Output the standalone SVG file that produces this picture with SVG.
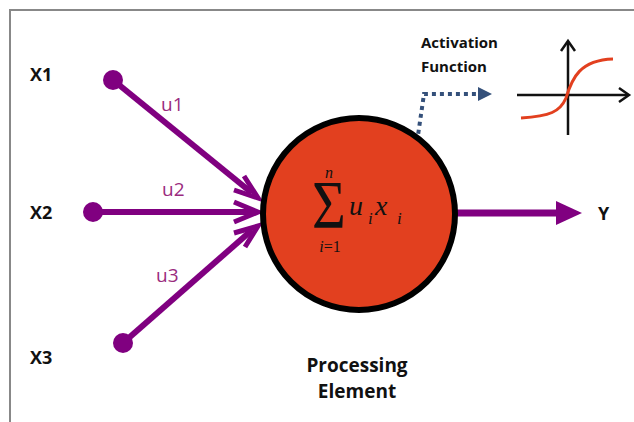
<svg xmlns="http://www.w3.org/2000/svg" width="634" height="422" viewBox="0 0 634 422">
<style>
.lbl{font-family:"Open Sans","Liberation Sans",sans-serif;font-weight:bold;fill:#111}
.w{font-family:"Open Sans","Liberation Sans",sans-serif;fill:#9a2b7e;font-size:19px}
.in{stroke:#800080;stroke-width:6;fill:none}
.ah{fill:none;stroke:#800080;stroke-width:5}
.m{font-family:"Liberation Serif","Times New Roman",serif;font-style:italic;fill:#111}
</style>
<rect width="634" height="422" fill="#fff"/>
<path d="M10 422 V10 H634" fill="none" stroke="#888" stroke-width="2"/>
<g id="connectors">
<line class="in" x1="113" y1="80" x2="252" y2="193"/>
<polyline class="ah" points="244,176 258,198 234,190"/>
<line class="in" x1="93" y1="212" x2="254" y2="212"/>
<polyline class="ah" points="234,202 258,212 234,222"/>
<line class="in" x1="123" y1="343" x2="252" y2="230"/>
<polyline class="ah" points="234,233 258,226 245,247"/>
<line x1="455" y1="213" x2="560" y2="213" stroke="#800080" stroke-width="7"/>
<path d="M556 201 L582 213 L556 225 Z" fill="#800080"/>
<path d="M409 197 L424 94 H478" fill="none" stroke="#34507a" stroke-width="4" stroke-dasharray="4 4"/>
<path d="M478 87 L492 94 L478 101 Z" fill="#34507a"/>
</g>
<g id="x1"><circle cx="113" cy="80" r="10" fill="#800080"/><text class="lbl" x="30" y="81" font-size="18">X1</text></g>
<g id="x2"><circle cx="93" cy="212" r="10" fill="#800080"/><text class="lbl" x="30" y="219" font-size="18">X2</text></g>
<g id="x3"><circle cx="123" cy="343" r="10" fill="#800080"/><text class="lbl" x="30" y="364" font-size="18">X3</text></g>
<text class="w" x="161" y="111">u1</text>
<text class="w" x="162" y="196">u2</text>
<text class="w" x="156" y="282">u3</text>
<g id="processing">
<circle cx="359" cy="214" r="96" fill="#e2401f" stroke="#000" stroke-width="6"/>
<text transform="translate(329 227) scale(1 1.16)" font-family="Liberation Serif,serif" font-size="58" fill="#111" text-anchor="middle">Σ</text>
<text class="m" x="329" y="178" font-size="16" text-anchor="middle">n</text>
<text class="m" x="330" y="252" font-size="16" text-anchor="middle">i<tspan font-style="normal">=1</tspan></text>
<text class="m" x="349" y="215" font-size="28">u</text>
<text class="m" x="368" y="224" font-size="17">i</text>
<text class="m" x="375" y="215" font-size="28">x</text>
<text class="m" x="397" y="224" font-size="17">i</text>
<text class="lbl" x="357" y="372" font-size="19" text-anchor="middle">Processing</text>
<text class="lbl" x="357" y="398" font-size="19" text-anchor="middle">Element</text>
</g>
<g id="y"><text class="lbl" x="598" y="220" font-size="18">Y</text></g>
<g id="activation">
<text class="lbl" x="421" y="48" font-size="15">Activation</text>
<text class="lbl" x="421" y="72" font-size="15">Function</text>
<line x1="568" y1="42" x2="568" y2="135" stroke="#111" stroke-width="2.5"/>
<polyline points="561,51 568,41 575,51" fill="none" stroke="#111" stroke-width="2.5"/>
<line x1="517" y1="95" x2="628" y2="95" stroke="#111" stroke-width="2.5"/>
<polyline points="619,88 629,95 619,102" fill="none" stroke="#111" stroke-width="2.5"/>
<path d="M521 118 C550 116 560 112 566 98 C572 78 580 60 613 59" fill="none" stroke="#e2401f" stroke-width="3"/>
</g>
</svg>
